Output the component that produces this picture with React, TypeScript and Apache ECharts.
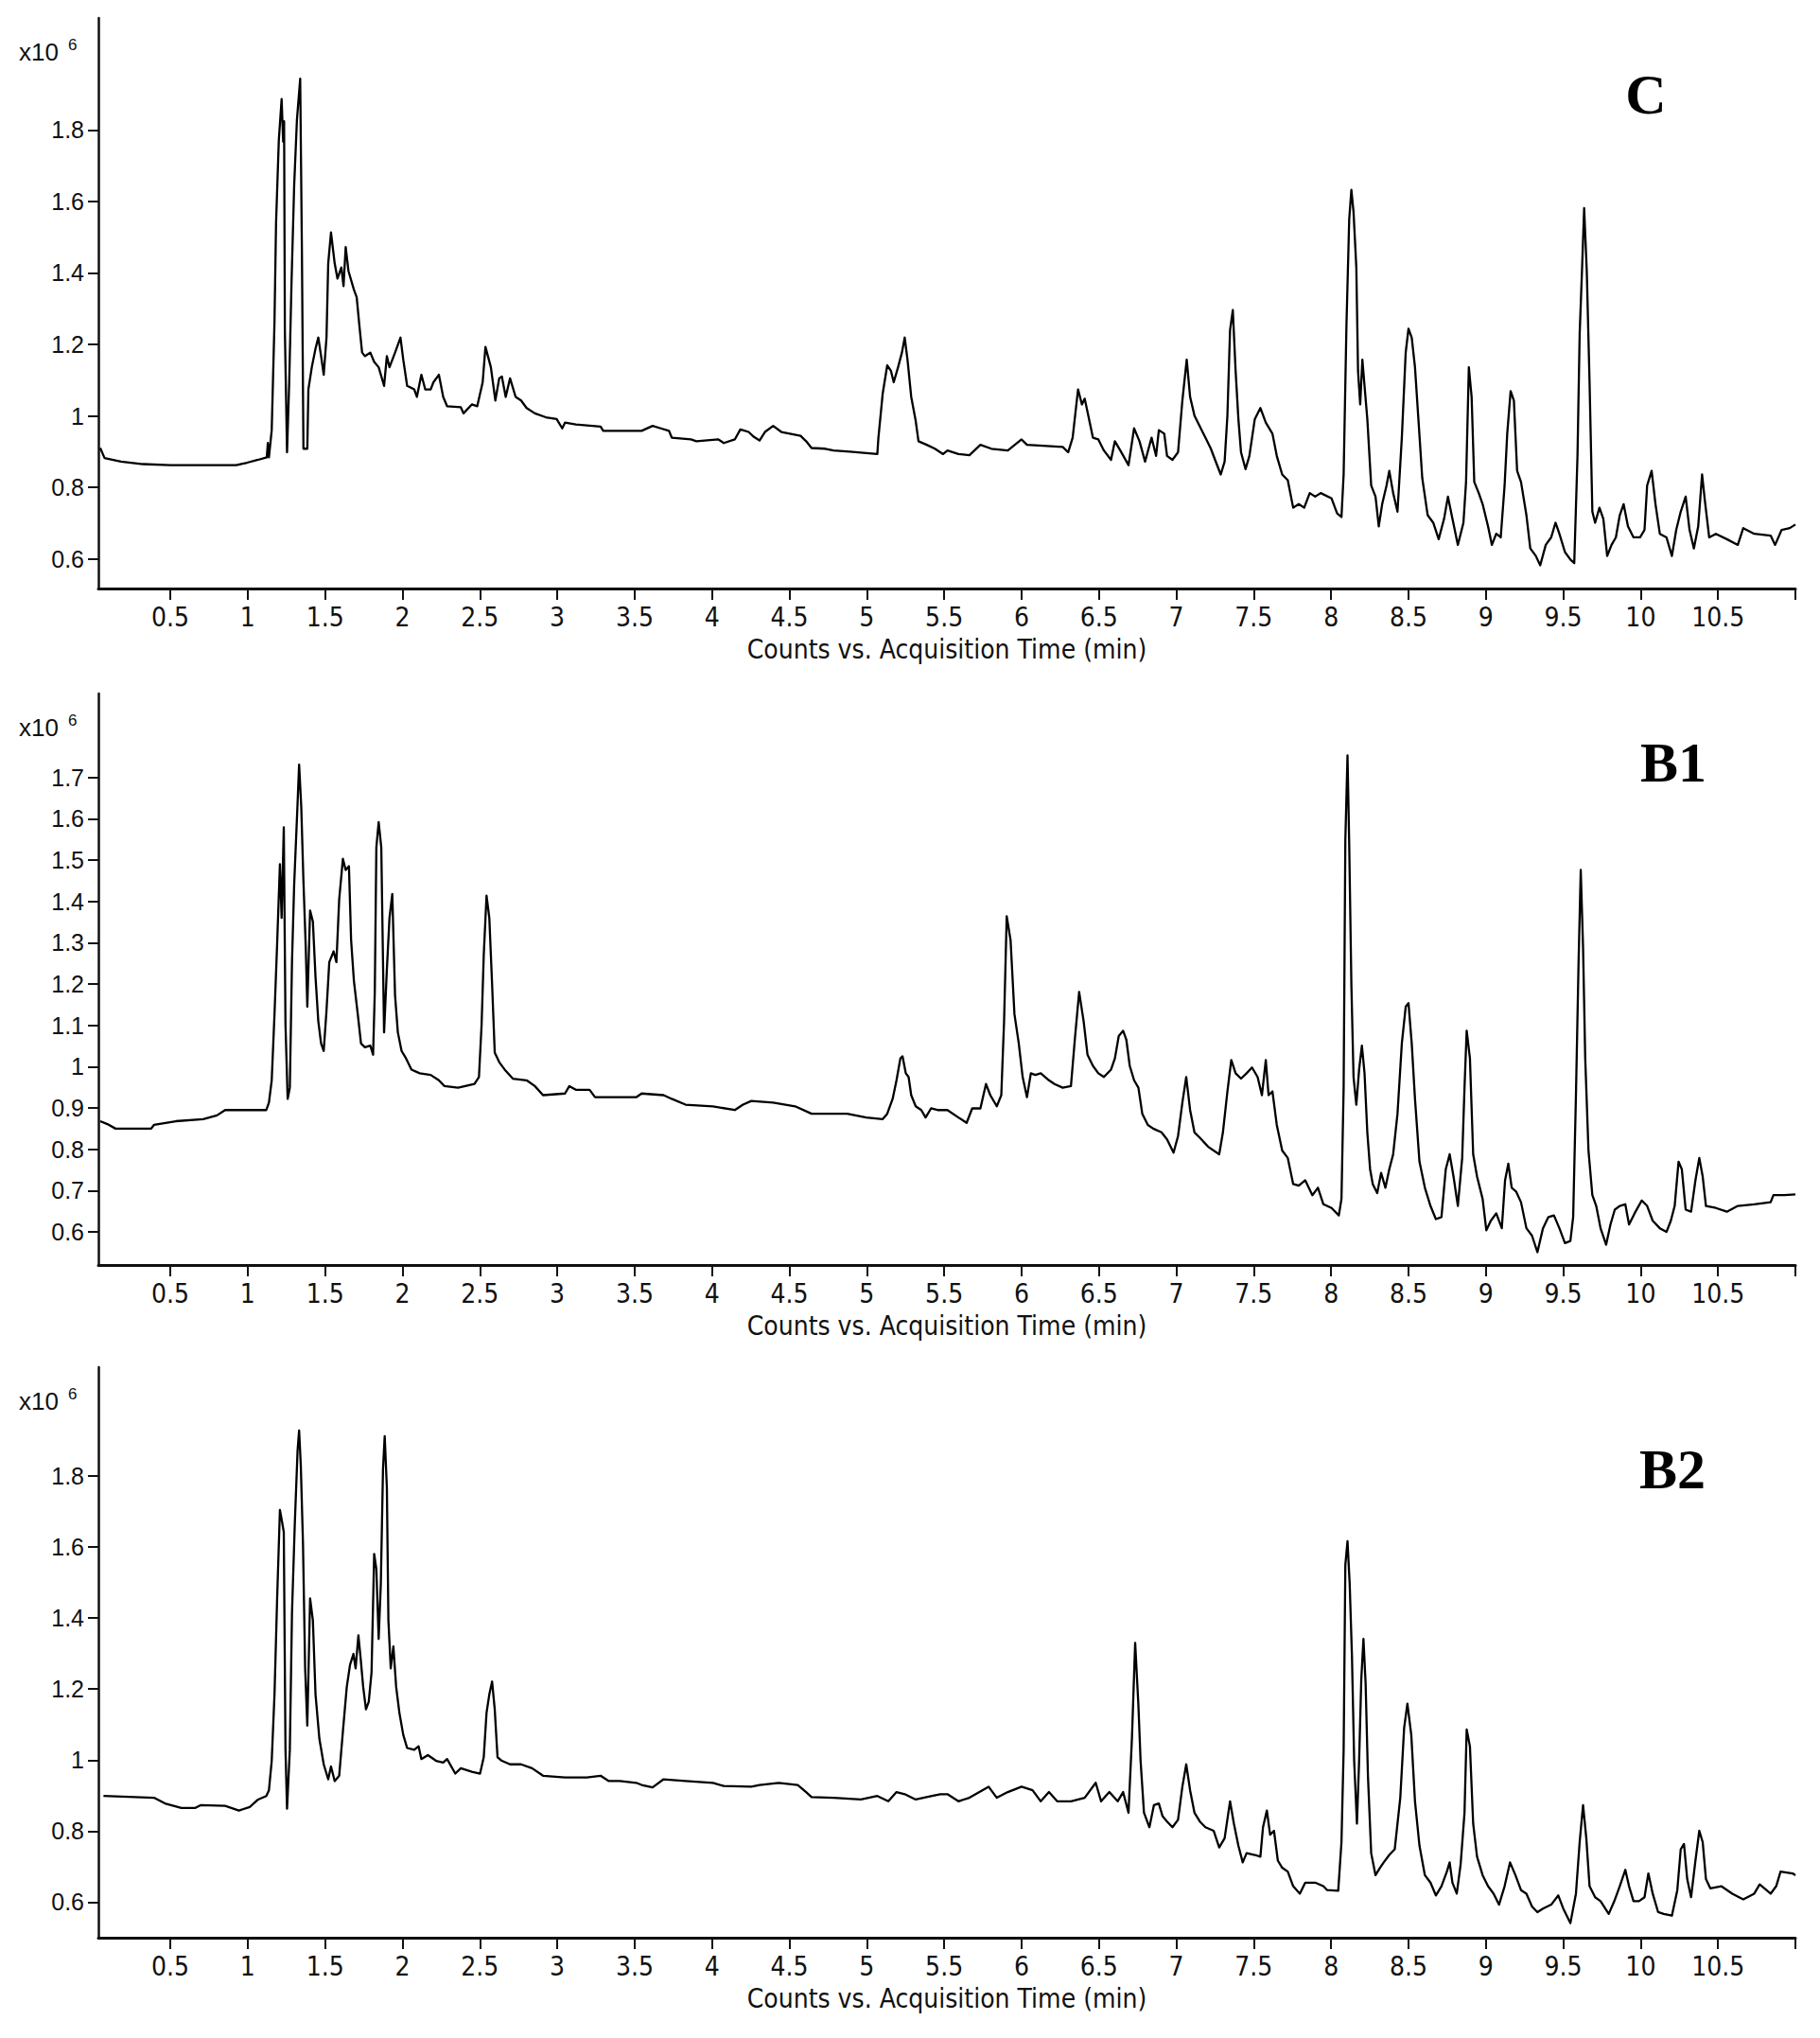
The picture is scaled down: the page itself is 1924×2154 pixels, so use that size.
import React, { useEffect, useRef } from "react";
import * as echarts from "echarts";

// ---------- DATA (x: acquisition time, min; y: counts x10^6) ----------
const xTickValues = [0.5, 1, 1.5, 2, 2.5, 3, 3.5, 4, 4.5, 5, 5.5, 6, 6.5, 7, 7.5, 8, 8.5, 9, 9.5, 10, 10.5, 11];
const xLabelValues = [0.5, 1, 1.5, 2, 2.5, 3, 3.5, 4, 4.5, 5, 5.5, 6, 6.5, 7, 7.5, 8, 8.5, 9, 9.5, 10, 10.5];
const yTicksC = [0.6, 0.8, 1, 1.2, 1.4, 1.6, 1.8];
const yTicksB1 = [0.6, 0.7, 0.8, 0.9, 1, 1.1, 1.2, 1.3, 1.4, 1.5, 1.6, 1.7];
const yTicksB2 = [0.6, 0.8, 1, 1.2, 1.4, 1.6, 1.8];
const panelNames = ["C", "B1", "B2"];
const xAxisTitle = "Counts vs. Acquisition Time (min)";

const traceC: [number, number][] = [
  [0.047, 0.91], [0.075, 0.882], [0.181, 0.872], [0.323, 0.865], [0.5, 0.862], [0.925, 0.862], [0.996, 0.869], [1.067, 0.877],
  [1.123, 0.884], [1.13, 0.924], [1.137, 0.884], [1.155, 0.96], [1.173, 1.265], [1.183, 1.539], [1.201, 1.772], [1.219, 1.886],
  [1.229, 1.767], [1.235, 1.824], [1.24, 1.239], [1.254, 0.898], [1.268, 1.094], [1.283, 1.374], [1.3, 1.643], [1.318, 1.829],
  [1.339, 1.943], [1.35, 1.467], [1.36, 0.908], [1.385, 0.908], [1.392, 1.074], [1.414, 1.136], [1.438, 1.188], [1.456, 1.219],
  [1.474, 1.167], [1.491, 1.115], [1.509, 1.219], [1.52, 1.426], [1.538, 1.513], [1.562, 1.426], [1.58, 1.384], [1.605, 1.415],
  [1.619, 1.363], [1.633, 1.472], [1.651, 1.405], [1.686, 1.353], [1.704, 1.332], [1.722, 1.25], [1.739, 1.177], [1.757, 1.167],
  [1.792, 1.177], [1.817, 1.151], [1.846, 1.136], [1.881, 1.084], [1.899, 1.167], [1.916, 1.136], [1.952, 1.177], [1.987, 1.219],
  [2.005, 1.157], [2.03, 1.084], [2.076, 1.074], [2.093, 1.053], [2.122, 1.115], [2.147, 1.074], [2.182, 1.074], [2.2, 1.094],
  [2.235, 1.115], [2.263, 1.053], [2.288, 1.027], [2.377, 1.024], [2.394, 1.007], [2.448, 1.032], [2.483, 1.027], [2.518, 1.094],
  [2.536, 1.193], [2.571, 1.136], [2.6, 1.043], [2.625, 1.105], [2.642, 1.11], [2.667, 1.053], [2.695, 1.105], [2.731, 1.053],
  [2.766, 1.043], [2.802, 1.022], [2.855, 1.007], [2.926, 0.996], [2.996, 0.991], [3.032, 0.965], [3.05, 0.981], [3.12, 0.976],
  [3.28, 0.97], [3.297, 0.958], [3.545, 0.958], [3.616, 0.972], [3.669, 0.965], [3.722, 0.958], [3.74, 0.939], [3.864, 0.934],
  [3.899, 0.929], [4.041, 0.934], [4.076, 0.924], [4.147, 0.934], [4.183, 0.962], [4.236, 0.955], [4.271, 0.941], [4.307, 0.931],
  [4.342, 0.955], [4.395, 0.972], [4.448, 0.955], [4.572, 0.944], [4.608, 0.929], [4.643, 0.91], [4.731, 0.908], [4.785, 0.903],
  [4.891, 0.9], [5.068, 0.893], [5.075, 0.939], [5.103, 1.063], [5.132, 1.141], [5.156, 1.126], [5.174, 1.094], [5.202, 1.136],
  [5.227, 1.177], [5.245, 1.219], [5.263, 1.157], [5.287, 1.053], [5.316, 0.986], [5.334, 0.929], [5.387, 0.919], [5.44, 0.908],
  [5.493, 0.893], [5.521, 0.903], [5.592, 0.893], [5.663, 0.89], [5.734, 0.919], [5.805, 0.908], [5.911, 0.903], [6.0, 0.934],
  [6.035, 0.919], [6.266, 0.913], [6.301, 0.898], [6.33, 0.939], [6.365, 1.074], [6.39, 1.032], [6.408, 1.048], [6.436, 0.991],
  [6.461, 0.939], [6.496, 0.934], [6.532, 0.903], [6.578, 0.877], [6.603, 0.929], [6.638, 0.903], [6.691, 0.862], [6.727, 0.965],
  [6.762, 0.929], [6.798, 0.872], [6.84, 0.939], [6.869, 0.888], [6.887, 0.96], [6.922, 0.95], [6.94, 0.888], [6.975, 0.877],
  [7.011, 0.898], [7.039, 1.043], [7.067, 1.157], [7.089, 1.053], [7.117, 1.001], [7.152, 0.97], [7.188, 0.939], [7.223, 0.908],
  [7.259, 0.867], [7.287, 0.836], [7.312, 0.872], [7.33, 1.001], [7.347, 1.239], [7.365, 1.296], [7.383, 1.126], [7.401, 0.991],
  [7.418, 0.898], [7.447, 0.851], [7.472, 0.888], [7.507, 0.991], [7.543, 1.022], [7.578, 0.981], [7.621, 0.95], [7.649, 0.888],
  [7.684, 0.836], [7.72, 0.82], [7.755, 0.743], [7.791, 0.753], [7.826, 0.743], [7.862, 0.784], [7.897, 0.774], [7.933, 0.784],
  [8.003, 0.769], [8.039, 0.727], [8.067, 0.717], [8.081, 0.836], [8.099, 1.25], [8.117, 1.55], [8.131, 1.632], [8.145, 1.57],
  [8.163, 1.415], [8.174, 1.126], [8.188, 1.032], [8.202, 1.157], [8.216, 1.084], [8.234, 0.991], [8.259, 0.805], [8.287, 0.774],
  [8.308, 0.691], [8.33, 0.753], [8.358, 0.805], [8.376, 0.846], [8.401, 0.784], [8.429, 0.732], [8.457, 0.939], [8.482, 1.177],
  [8.5, 1.244], [8.521, 1.219], [8.542, 1.136], [8.564, 0.991], [8.589, 0.826], [8.624, 0.722], [8.66, 0.701], [8.695, 0.655],
  [8.73, 0.712], [8.755, 0.774], [8.784, 0.712], [8.819, 0.639], [8.855, 0.701], [8.872, 0.815], [8.89, 1.136], [8.908, 1.053],
  [8.925, 0.815], [8.954, 0.784], [8.979, 0.753], [9.014, 0.691], [9.039, 0.639], [9.067, 0.67], [9.096, 0.66], [9.121, 0.805],
  [9.138, 0.95], [9.16, 1.069], [9.181, 1.043], [9.202, 0.846], [9.227, 0.815], [9.262, 0.722], [9.287, 0.629], [9.323, 0.608],
  [9.351, 0.582], [9.387, 0.639], [9.422, 0.66], [9.45, 0.701], [9.475, 0.67], [9.511, 0.619], [9.546, 0.598], [9.571, 0.588],
  [9.592, 0.888], [9.606, 1.229], [9.621, 1.405], [9.635, 1.581], [9.652, 1.405], [9.67, 1.094], [9.688, 0.732], [9.706, 0.701],
  [9.734, 0.743], [9.759, 0.712], [9.784, 0.608], [9.812, 0.639], [9.84, 0.66], [9.865, 0.722], [9.89, 0.753], [9.918, 0.691],
  [9.954, 0.66], [9.996, 0.66], [10.025, 0.681], [10.042, 0.805], [10.071, 0.846], [10.096, 0.753], [10.124, 0.67], [10.167, 0.66],
  [10.202, 0.608], [10.23, 0.681], [10.259, 0.732], [10.291, 0.774], [10.316, 0.681], [10.344, 0.629], [10.372, 0.691], [10.397, 0.836],
  [10.415, 0.763], [10.443, 0.66], [10.486, 0.67], [10.557, 0.655], [10.628, 0.639], [10.663, 0.686], [10.734, 0.67], [10.84, 0.665],
  [10.869, 0.639], [10.911, 0.681], [10.964, 0.686], [11.0, 0.696],
];

const traceB1: [number, number][] = [
  [0.047, 0.868], [0.093, 0.861], [0.146, 0.85], [0.376, 0.85], [0.394, 0.859], [0.535, 0.868], [0.712, 0.873], [0.801, 0.882],
  [0.854, 0.895], [1.12, 0.895], [1.137, 0.913], [1.155, 0.967], [1.173, 1.127], [1.19, 1.297], [1.208, 1.49], [1.219, 1.36],
  [1.233, 1.579], [1.244, 1.101], [1.258, 0.922], [1.272, 0.949], [1.286, 1.253], [1.3, 1.44], [1.322, 1.637], [1.332, 1.731],
  [1.346, 1.628], [1.36, 1.449], [1.375, 1.288], [1.385, 1.145], [1.403, 1.378], [1.421, 1.351], [1.438, 1.217], [1.456, 1.11],
  [1.474, 1.056], [1.491, 1.038], [1.509, 1.136], [1.527, 1.253], [1.555, 1.279], [1.573, 1.253], [1.591, 1.405], [1.615, 1.503],
  [1.633, 1.476], [1.654, 1.485], [1.668, 1.306], [1.686, 1.208], [1.711, 1.127], [1.732, 1.056], [1.757, 1.047], [1.792, 1.051],
  [1.81, 1.029], [1.821, 1.181], [1.831, 1.53], [1.846, 1.592], [1.863, 1.53], [1.881, 1.083], [1.899, 1.235], [1.916, 1.36],
  [1.934, 1.418], [1.952, 1.172], [1.97, 1.083], [1.994, 1.038], [2.023, 1.02], [2.058, 0.993], [2.111, 0.984], [2.182, 0.98],
  [2.235, 0.967], [2.271, 0.953], [2.359, 0.949], [2.465, 0.958], [2.494, 0.975], [2.511, 1.101], [2.525, 1.27], [2.543, 1.414],
  [2.561, 1.36], [2.579, 1.199], [2.596, 1.034], [2.625, 1.011], [2.66, 0.993], [2.713, 0.971], [2.802, 0.967], [2.855, 0.953],
  [2.908, 0.931], [3.05, 0.935], [3.078, 0.953], [3.12, 0.944], [3.209, 0.944], [3.244, 0.926], [3.51, 0.926], [3.545, 0.935],
  [3.687, 0.931], [3.74, 0.922], [3.829, 0.908], [4.006, 0.904], [4.147, 0.895], [4.2, 0.908], [4.254, 0.917], [4.395, 0.913],
  [4.537, 0.904], [4.643, 0.886], [4.873, 0.886], [4.997, 0.877], [5.103, 0.873], [5.132, 0.886], [5.167, 0.922], [5.192, 0.967],
  [5.217, 1.02], [5.231, 1.025], [5.252, 0.984], [5.27, 0.975], [5.287, 0.931], [5.316, 0.904], [5.352, 0.895], [5.38, 0.877],
  [5.415, 0.899], [5.457, 0.895], [5.521, 0.895], [5.592, 0.877], [5.645, 0.864], [5.681, 0.899], [5.734, 0.899], [5.77, 0.958],
  [5.798, 0.931], [5.84, 0.904], [5.869, 0.931], [5.887, 1.11], [5.904, 1.364], [5.929, 1.306], [5.954, 1.127], [5.982, 1.056],
  [6.007, 0.975], [6.035, 0.926], [6.06, 0.984], [6.089, 0.98], [6.124, 0.984], [6.177, 0.967], [6.213, 0.958], [6.266, 0.949],
  [6.319, 0.953], [6.344, 1.065], [6.372, 1.181], [6.401, 1.11], [6.426, 1.029], [6.461, 1.002], [6.496, 0.984], [6.532, 0.975],
  [6.578, 0.993], [6.603, 1.02], [6.628, 1.074], [6.656, 1.087], [6.677, 1.065], [6.699, 1.002], [6.727, 0.967], [6.755, 0.949],
  [6.78, 0.886], [6.816, 0.859], [6.851, 0.85], [6.904, 0.841], [6.94, 0.824], [6.982, 0.792], [7.011, 0.832], [7.039, 0.913],
  [7.064, 0.975], [7.089, 0.895], [7.117, 0.841], [7.152, 0.828], [7.206, 0.806], [7.277, 0.788], [7.301, 0.841], [7.33, 0.94],
  [7.355, 1.016], [7.383, 0.984], [7.418, 0.971], [7.454, 0.984], [7.489, 0.998], [7.525, 0.975], [7.553, 0.931], [7.578, 1.016],
  [7.596, 0.931], [7.621, 0.94], [7.649, 0.859], [7.684, 0.797], [7.72, 0.779], [7.755, 0.716], [7.791, 0.712], [7.833, 0.725],
  [7.879, 0.689], [7.915, 0.707], [7.95, 0.667], [8.003, 0.658], [8.05, 0.64], [8.067, 0.68], [8.081, 0.949], [8.092, 1.548],
  [8.106, 1.753], [8.117, 1.539], [8.131, 1.199], [8.145, 0.975], [8.163, 0.908], [8.181, 0.993], [8.199, 1.051], [8.216, 0.984],
  [8.234, 0.841], [8.252, 0.752], [8.269, 0.716], [8.298, 0.694], [8.323, 0.743], [8.351, 0.707], [8.376, 0.752], [8.401, 0.788],
  [8.429, 0.886], [8.457, 1.056], [8.482, 1.145], [8.5, 1.154], [8.521, 1.056], [8.542, 0.922], [8.571, 0.77], [8.606, 0.707],
  [8.642, 0.663], [8.677, 0.631], [8.713, 0.636], [8.741, 0.752], [8.766, 0.788], [8.791, 0.734], [8.819, 0.663], [8.847, 0.779],
  [8.862, 0.949], [8.876, 1.087], [8.897, 1.02], [8.918, 0.788], [8.943, 0.734], [8.979, 0.68], [9.003, 0.604], [9.032, 0.627],
  [9.067, 0.645], [9.103, 0.609], [9.124, 0.725], [9.145, 0.765], [9.167, 0.707], [9.195, 0.698], [9.227, 0.672], [9.262, 0.609],
  [9.298, 0.591], [9.333, 0.551], [9.369, 0.609], [9.404, 0.636], [9.44, 0.64], [9.475, 0.609], [9.511, 0.573], [9.546, 0.578],
  [9.564, 0.636], [9.582, 0.931], [9.599, 1.253], [9.613, 1.476], [9.628, 1.288], [9.642, 1.02], [9.663, 0.797], [9.688, 0.689],
  [9.713, 0.663], [9.741, 0.609], [9.777, 0.569], [9.805, 0.618], [9.833, 0.654], [9.865, 0.663], [9.901, 0.667], [9.925, 0.618],
  [9.961, 0.645], [10.007, 0.676], [10.042, 0.663], [10.078, 0.627], [10.124, 0.609], [10.167, 0.6], [10.195, 0.627], [10.22, 0.663],
  [10.245, 0.77], [10.266, 0.752], [10.291, 0.654], [10.326, 0.649], [10.354, 0.725], [10.379, 0.779], [10.401, 0.734], [10.422, 0.663],
  [10.486, 0.658], [10.557, 0.649], [10.628, 0.663], [10.734, 0.667], [10.84, 0.672], [10.858, 0.689], [10.929, 0.689], [11.0, 0.691],
];

const traceB2: [number, number][] = [
  [0.068, 0.899], [0.394, 0.894], [0.465, 0.878], [0.571, 0.865], [0.659, 0.865], [0.695, 0.873], [0.854, 0.871], [0.943, 0.858],
  [1.013, 0.868], [1.067, 0.889], [1.12, 0.899], [1.137, 0.915], [1.155, 0.998], [1.173, 1.185], [1.19, 1.455], [1.208, 1.704],
  [1.219, 1.678], [1.233, 1.642], [1.244, 1.029], [1.254, 0.863], [1.272, 1.029], [1.286, 1.414], [1.304, 1.663], [1.322, 1.871],
  [1.332, 1.928], [1.343, 1.829], [1.357, 1.611], [1.371, 1.258], [1.385, 1.097], [1.403, 1.455], [1.421, 1.393], [1.438, 1.185],
  [1.463, 1.06], [1.491, 0.988], [1.52, 0.946], [1.538, 0.982], [1.562, 0.941], [1.591, 0.956], [1.615, 1.081], [1.64, 1.206],
  [1.661, 1.268], [1.683, 1.299], [1.697, 1.258], [1.715, 1.351], [1.729, 1.289], [1.746, 1.206], [1.764, 1.143], [1.782, 1.164],
  [1.8, 1.247], [1.817, 1.58], [1.831, 1.538], [1.846, 1.341], [1.86, 1.497], [1.874, 1.819], [1.885, 1.912], [1.899, 1.767],
  [1.909, 1.393], [1.924, 1.258], [1.941, 1.32], [1.959, 1.206], [1.98, 1.133], [2.005, 1.071], [2.03, 1.034], [2.076, 1.029],
  [2.104, 1.039], [2.122, 1.003], [2.164, 1.014], [2.217, 0.998], [2.263, 0.993], [2.288, 1.003], [2.341, 0.962], [2.377, 0.977],
  [2.448, 0.967], [2.501, 0.962], [2.525, 1.008], [2.543, 1.133], [2.561, 1.185], [2.579, 1.221], [2.596, 1.143], [2.614, 1.008],
  [2.642, 0.998], [2.695, 0.988], [2.766, 0.988], [2.837, 0.977], [2.908, 0.956], [3.05, 0.951], [3.191, 0.951], [3.28, 0.956],
  [3.333, 0.941], [3.404, 0.941], [3.51, 0.936], [3.545, 0.93], [3.616, 0.923], [3.687, 0.946], [3.829, 0.941], [4.006, 0.936],
  [4.076, 0.927], [4.254, 0.925], [4.307, 0.93], [4.431, 0.936], [4.554, 0.93], [4.608, 0.91], [4.643, 0.896], [4.785, 0.894],
  [4.962, 0.889], [5.068, 0.899], [5.139, 0.884], [5.192, 0.91], [5.245, 0.904], [5.316, 0.889], [5.422, 0.899], [5.475, 0.904],
  [5.521, 0.904], [5.592, 0.884], [5.663, 0.894], [5.787, 0.925], [5.84, 0.894], [5.911, 0.91], [6.0, 0.925], [6.071, 0.915],
  [6.124, 0.884], [6.177, 0.91], [6.23, 0.884], [6.319, 0.884], [6.408, 0.894], [6.479, 0.936], [6.514, 0.884], [6.567, 0.91],
  [6.621, 0.884], [6.656, 0.91], [6.691, 0.852], [6.713, 1.06], [6.734, 1.33], [6.755, 1.154], [6.769, 0.998], [6.791, 0.852],
  [6.826, 0.811], [6.855, 0.873], [6.887, 0.878], [6.911, 0.842], [6.94, 0.827], [6.975, 0.811], [7.011, 0.832], [7.039, 0.925],
  [7.064, 0.988], [7.089, 0.915], [7.117, 0.852], [7.152, 0.827], [7.188, 0.811], [7.241, 0.801], [7.277, 0.754], [7.312, 0.78],
  [7.347, 0.884], [7.372, 0.821], [7.401, 0.759], [7.429, 0.712], [7.454, 0.738], [7.507, 0.733], [7.543, 0.728], [7.56, 0.811],
  [7.585, 0.858], [7.606, 0.79], [7.631, 0.801], [7.656, 0.717], [7.684, 0.697], [7.72, 0.686], [7.755, 0.645], [7.798, 0.624],
  [7.833, 0.655], [7.897, 0.655], [7.95, 0.645], [7.975, 0.634], [8.046, 0.632], [8.067, 0.769], [8.081, 1.029], [8.092, 1.549],
  [8.106, 1.616], [8.12, 1.497], [8.135, 1.289], [8.149, 0.998], [8.167, 0.821], [8.181, 0.998], [8.195, 1.227], [8.209, 1.341],
  [8.223, 1.216], [8.238, 0.956], [8.259, 0.738], [8.287, 0.676], [8.316, 0.697], [8.34, 0.712], [8.376, 0.733], [8.411, 0.749],
  [8.447, 0.894], [8.472, 1.091], [8.493, 1.159], [8.518, 1.071], [8.542, 0.884], [8.571, 0.759], [8.606, 0.676], [8.642, 0.655],
  [8.677, 0.619], [8.713, 0.645], [8.748, 0.686], [8.766, 0.712], [8.784, 0.655], [8.812, 0.624], [8.837, 0.707], [8.862, 0.852],
  [8.876, 1.086], [8.897, 1.039], [8.918, 0.821], [8.943, 0.728], [8.979, 0.676], [9.014, 0.645], [9.05, 0.624], [9.085, 0.593],
  [9.121, 0.645], [9.156, 0.712], [9.191, 0.676], [9.227, 0.634], [9.262, 0.624], [9.298, 0.588], [9.333, 0.572], [9.369, 0.582],
  [9.422, 0.593], [9.468, 0.619], [9.5, 0.582], [9.546, 0.541], [9.582, 0.624], [9.606, 0.769], [9.628, 0.873], [9.649, 0.78],
  [9.67, 0.645], [9.706, 0.614], [9.741, 0.603], [9.794, 0.567], [9.83, 0.603], [9.865, 0.645], [9.901, 0.691], [9.925, 0.645],
  [9.954, 0.603], [9.989, 0.603], [10.025, 0.614], [10.05, 0.681], [10.078, 0.624], [10.113, 0.572], [10.149, 0.567], [10.202, 0.562],
  [10.237, 0.634], [10.259, 0.749], [10.28, 0.764], [10.301, 0.665], [10.326, 0.614], [10.354, 0.717], [10.379, 0.801], [10.401, 0.769],
  [10.422, 0.665], [10.45, 0.639], [10.521, 0.645], [10.592, 0.624], [10.663, 0.608], [10.734, 0.624], [10.769, 0.65], [10.84, 0.624],
  [10.876, 0.645], [10.904, 0.686], [10.982, 0.681], [11.0, 0.676],
];

const xRange = [0.035, 11.0];
const yRangeC = [0.517, 2.113];
const yRangeB1 = [0.52, 1.903];
const yRangeB2 = [0.5, 2.106];

// ---------- LAYOUT ----------
const W = 1924;
const H = 2154;
const PLOT_LEFT = 104;
const PLOT_RIGHT = 1898;
const panelTops = [19, 733, 1445];
const panelBottoms = [622, 1337, 2048];
const panelLabelPos = [
  [1740, 100],
  [1769, 806],
  [1768, 1553],
];

const narrowFont = "'Liberation Sans Narrow', 'Arial Narrow', 'DejaVu Sans Condensed', sans-serif";
const sansFont = "'Liberation Sans', Arial, 'DejaVu Sans', sans-serif";
const serifFont = "'Liberation Serif', 'Times New Roman', 'DejaVu Serif', serif";
const INK = "#111";

export default function App() {
  const ref = useRef<HTMLDivElement>(null);

  useEffect(() => {
    if (!ref.current) return;
    const chart = echarts.init(ref.current, undefined, { renderer: "svg" });

    const traces = [traceC, traceB1, traceB2];
    const yTicks = [yTicksC, yTicksB1, yTicksB2];
    const yRanges = [yRangeC, yRangeB1, yRangeB2];

    const grid = panelTops.map((t, i) => ({
      left: PLOT_LEFT,
      width: PLOT_RIGHT - PLOT_LEFT,
      top: t,
      height: panelBottoms[i] - t,
      containLabel: false,
    }));

    const xAxis = panelTops.map((_, i) => ({
      type: "value",
      gridIndex: i,
      min: xRange[0],
      max: xRange[1],
      name: xAxisTitle,
      nameLocation: "middle",
      nameGap: 50,
      nameTextStyle: { fontFamily: narrowFont, fontSize: 28, color: INK },
      axisLine: { show: true, onZero: false, lineStyle: { color: INK, width: 3 } },
      axisTick: {
        show: true,
        inside: false,
        length: 12,
        customValues: xTickValues,
        lineStyle: { color: INK, width: 2 },
      },
      axisLabel: {
        show: true,
        customValues: xLabelValues,
        margin: 16,
        fontFamily: narrowFont,
        fontSize: 28,
        color: INK,
      },
      splitLine: { show: false },
    }));

    const yAxis = panelTops.map((_, i) => ({
      type: "value",
      gridIndex: i,
      min: yRanges[i][0],
      max: yRanges[i][1],
      axisLine: { show: true, onZero: false, lineStyle: { color: INK, width: 2.5 } },
      axisTick: {
        show: true,
        inside: false,
        length: 11,
        customValues: yTicks[i],
        lineStyle: { color: INK, width: 2 },
      },
      axisLabel: {
        show: true,
        customValues: yTicks[i],
        margin: 15,
        fontFamily: sansFont,
        fontSize: 25,
        color: INK,
      },
      splitLine: { show: false },
    }));

    const series = traces.map((data, i) => ({
      type: "line",
      xAxisIndex: i,
      yAxisIndex: i,
      data,
      showSymbol: false,
      symbol: "none",
      lineStyle: { color: "#000", width: 2.3, join: "round" },
      emphasis: { disabled: true },
      silent: true,
    }));

    const graphic: any[] = [];
    panelTops.forEach((t, i) => {
      graphic.push({
        type: "text",
        left: 20,
        top: t + 23,
        style: { text: "x10", fontFamily: sansFont, fontSize: 26, fill: INK },
      });
      graphic.push({
        type: "text",
        left: 72,
        top: t + 20,
        style: { text: "6", fontFamily: sansFont, fontSize: 17, fill: INK },
      });
      graphic.push({
        type: "text",
        x: panelLabelPos[i][0],
        y: panelLabelPos[i][1],
        style: {
          text: panelNames[i],
          fontFamily: serifFont,
          fontWeight: "bold",
          fontSize: 60,
          fill: "#000",
          align: "center",
          verticalAlign: "middle",
        },
      });
    });

    chart.setOption({
      animation: false,
      backgroundColor: "#fff",
      grid,
      xAxis,
      yAxis,
      series,
      graphic,
    });

    return () => chart.dispose();
  }, []);

  return (
    <div
      ref={ref}
      style={{ position: "absolute", left: 0, top: 0, width: W, height: H, background: "#fff" }}
    />
  );
}
